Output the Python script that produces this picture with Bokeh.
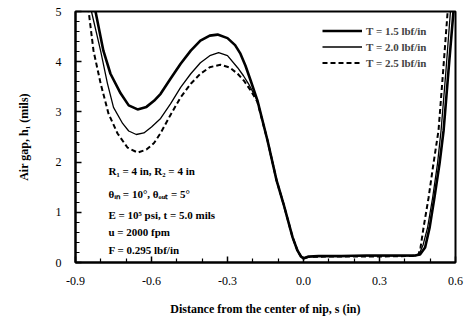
from bokeh.plotting import figure
from bokeh.models import FixedTicker, NumeralTickFormatter, Label, Legend, LegendItem
from bokeh.embed import file_html
from bokeh.resources import INLINE

# ---- data ----
s_t15 = [-0.84, -0.821, -0.79, -0.762, -0.722, -0.69, -0.655, -0.62, -0.59, -0.564,
         -0.525, -0.485, -0.445, -0.407, -0.37, -0.339, -0.30, -0.27, -0.249, -0.229,
         -0.209, -0.182, -0.142, -0.106, -0.079, -0.043, -0.024, -0.010, 0.0, 0.02,
         0.06, 0.15, 0.25, 0.35, 0.44, 0.46, 0.48, 0.498, 0.517, 0.537, 0.553, 0.572,
         0.592, 0.596]
h_t15 = [5.45, 5.0, 4.22, 3.76, 3.37, 3.13, 3.05, 3.10, 3.22, 3.36,
         3.66, 3.96, 4.22, 4.42, 4.52, 4.54, 4.47, 4.33, 4.16, 3.92,
         3.63, 3.23, 2.43, 1.63, 1.17, 0.50, 0.24, 0.12, 0.08, 0.12,
         0.13, 0.13, 0.14, 0.14, 0.14, 0.16, 0.30, 0.70, 1.30, 1.97, 2.63, 3.80,
         5.0, 5.3]

s_t20 = [-0.85, -0.837, -0.801, -0.774, -0.75, -0.714, -0.69, -0.66, -0.63, -0.60,
         -0.564, -0.525, -0.485, -0.445, -0.407, -0.37, -0.335, -0.30, -0.26, -0.237,
         -0.217, -0.20, -0.182, -0.142, -0.106, -0.079, -0.043, -0.024, -0.010, 0.0,
         0.02, 0.06, 0.15, 0.25, 0.35, 0.44, 0.455, 0.472, 0.49, 0.51, 0.529, 0.543,
         0.562, 0.58, 0.585]
h_t20 = [5.3, 5.0, 4.22, 3.57, 3.09, 2.77, 2.62, 2.55, 2.58, 2.70,
         2.87, 3.16, 3.49, 3.76, 3.98, 4.12, 4.18, 4.12, 3.88, 3.72,
         3.56, 3.40, 3.23, 2.43, 1.63, 1.17, 0.50, 0.24, 0.12, 0.08,
         0.11, 0.12, 0.12, 0.13, 0.13, 0.13, 0.15, 0.35, 0.70, 1.30, 1.97, 2.63,
         3.80, 5.0, 5.3]

s_t25 = [-0.86, -0.848, -0.829, -0.801, -0.77, -0.734, -0.695, -0.655, -0.62, -0.59,
         -0.564, -0.525, -0.485, -0.445, -0.407, -0.37, -0.328, -0.29, -0.26, -0.235,
         -0.209, -0.182, -0.142, -0.106, -0.079, -0.043, -0.024, -0.010, 0.0, 0.02,
         0.10, 0.20, 0.30, 0.43, 0.454, 0.462, 0.474, 0.494, 0.513, 0.533, 0.551,
         0.569, 0.575]
h_t25 = [5.4, 5.0, 4.22, 3.57, 2.97, 2.57, 2.29, 2.19, 2.25, 2.38,
         2.58, 2.94, 3.29, 3.56, 3.76, 3.89, 3.94, 3.88, 3.76, 3.62,
         3.43, 3.20, 2.43, 1.63, 1.17, 0.50, 0.24, 0.12, 0.09, 0.11,
         0.12, 0.12, 0.12, 0.13, 0.16, 0.30, 0.70, 1.30, 1.97, 2.63, 3.80,
         5.0, 5.4]

legend_labels = ["T = 1.5 lbf/in", "T = 2.0 lbf/in", "T = 2.5 lbf/in"]

x_ticks = [-0.9, -0.6, -0.3, 0.0, 0.3, 0.6]
x_minor = [-0.8, -0.7, -0.5, -0.4, -0.2, -0.1, 0.1, 0.2, 0.4, 0.5]
y_ticks = [0, 1, 2, 3, 4, 5]
y_minor = [0.2, 0.4, 0.6, 0.8, 1.2, 1.4, 1.6, 1.8, 2.2, 2.4, 2.6, 2.8,
           3.2, 3.4, 3.6, 3.8, 4.2, 4.4, 4.6, 4.8]

notes = ["R\u2081 = 4 in, R\u2082 = 4 in",
         "\u03b8\u1d62\u2099 = 10\u00b0, \u03b8\u2092\u1d64\u209c = 5\u00b0",
         "E = 10\u2075 psi, t = 5.0 mils",
         "u = 2000 fpm",
         "F = 0.295 lbf/in"]
note_x = -0.77
note_y = [1.83, 1.37, 0.94, 0.60, 0.24]

FONT = "Liberation Serif"

p = figure(width=466, height=320, x_range=(-0.9, 0.6), y_range=(0, 5),
           output_backend="svg", toolbar_location=None,
           min_border_left=75, min_border_right=11, min_border_top=11,
           min_border_bottom=58)

p.grid.visible = False
p.outline_line_color = "black"
p.outline_line_width = 2
p.background_fill_color = "white"
p.border_fill_color = "white"

r1 = p.line(s_t15, h_t15, line_color="black", line_width=2.6)
r2 = p.line(s_t20, h_t20, line_color="black", line_width=1.3)
r3 = p.line(s_t25, h_t25, line_color="black", line_width=2.0, line_dash="5 3")

# axes
p.xaxis.ticker = FixedTicker(ticks=x_ticks, minor_ticks=x_minor)
p.yaxis.ticker = FixedTicker(ticks=y_ticks, minor_ticks=y_minor)
p.xaxis.formatter = NumeralTickFormatter(format="0.0")
p.yaxis.formatter = NumeralTickFormatter(format="0")
for ax in (p.xaxis, p.yaxis):
    ax.axis_line_width = 2
    ax.axis_line_color = "black"
    ax.major_tick_in = 6
    ax.major_tick_out = 0
    ax.minor_tick_in = 4
    ax.minor_tick_out = 0
    ax.major_tick_line_width = 1.5
    ax.minor_tick_line_width = 1.2
    ax.major_label_text_font = FONT
    ax.major_label_text_font_size = "12px"
    ax.major_label_text_color = "black"
    ax.axis_label_text_font = FONT
    ax.axis_label_text_font_size = "12px"
    ax.axis_label_text_font_style = "bold"
    ax.axis_label_text_color = "black"

p.xaxis.axis_label = "Distance from the center of nip, s (in)"
p.yaxis.axis_label = "Air gap, h\u2081 (mils)"
p.xaxis.major_label_standoff = 14
p.xaxis.axis_label_standoff = 14
p.yaxis.major_label_standoff = 14
p.yaxis.axis_label_standoff = 22

# annotations
for txt, yy in zip(notes, note_y):
    p.add_layout(Label(x=note_x, y=yy, text=txt, text_font=FONT,
                       text_font_size="11px", text_font_style="bold",
                       text_baseline="middle", text_color="black"))

legend = Legend(items=[LegendItem(label=legend_labels[0], renderers=[r1]),
                       LegendItem(label=legend_labels[1], renderers=[r2]),
                       LegendItem(label=legend_labels[2], renderers=[r3])],
                location=(247, 192))
legend.glyph_width = 40
legend.glyph_height = 15
legend.label_height = 15
legend.spacing = 1
legend.padding = 0
legend.margin = 0
legend.label_standoff = 4
legend.border_line_color = None
legend.background_fill_alpha = 0
legend.label_text_font = FONT
legend.label_text_font_size = "11px"
legend.label_text_font_style = "bold"
p.add_layout(legend)

open("out.html", "w").write(file_html(p, INLINE))
